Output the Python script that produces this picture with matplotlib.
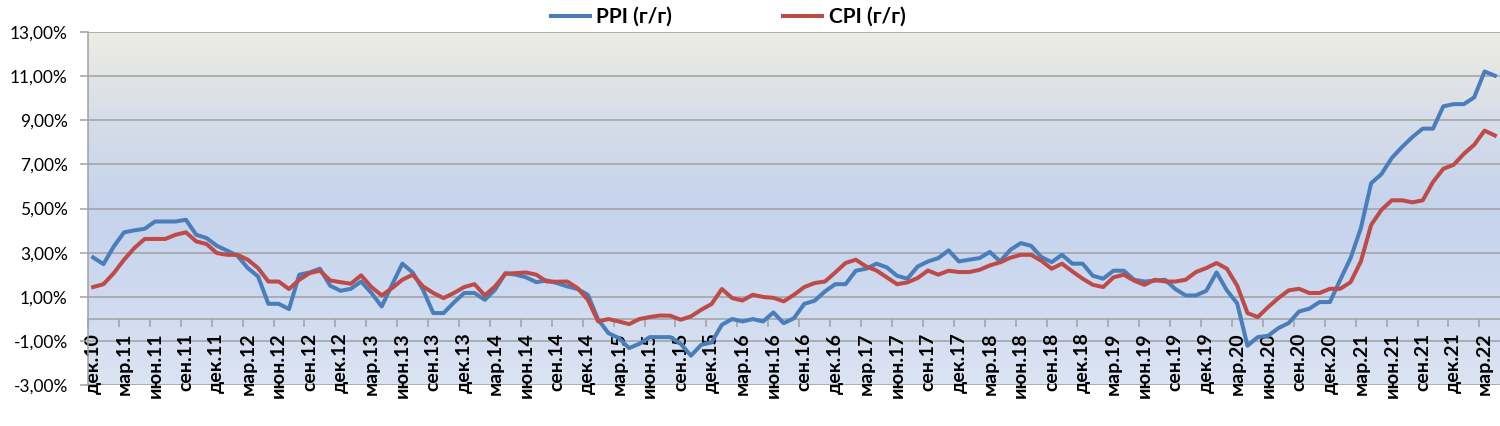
import matplotlib
matplotlib.use("Agg")
import matplotlib.pyplot as plt
import numpy as np
from matplotlib.colors import LinearSegmentedColormap
from matplotlib.ticker import FixedLocator, FuncFormatter

# ---- data (monthly, Dec 2010 .. Apr 2022), % y/y ----
ppi = [2.78, 2.48, 3.28, 3.92, 4.01, 4.08, 4.41, 4.41, 4.41, 4.49, 3.81, 3.66,
       3.31, 3.09, 2.86, 2.30, 1.92, 0.68, 0.68, 0.44, 2.00, 2.10, 2.27, 1.50,
       1.27, 1.36, 1.69, 1.17, 0.56, 1.54, 2.50, 2.10, 1.32, 0.26, 0.26, 0.74,
       1.17, 1.17, 0.86, 1.32, 2.07, 2.00, 1.88, 1.66, 1.74, 1.62, 1.47, 1.35,
       1.09, -0.04, -0.65, -0.87, -1.33, -1.13, -0.83, -0.83, -0.83, -1.13, -1.67, -1.18,
       -1.07, -0.27, -0.01, -0.12, -0.01, -0.12, 0.29, -0.20, 0.03, 0.68, 0.82, 1.24,
       1.57, 1.57, 2.18, 2.27, 2.50, 2.33, 1.95, 1.82, 2.37, 2.60, 2.75, 3.10,
       2.60, 2.68, 2.75, 3.03, 2.60, 3.13, 3.43, 3.31, 2.80, 2.57, 2.90, 2.50,
       2.50, 1.95, 1.82, 2.18, 2.18, 1.77, 1.69, 1.73, 1.77, 1.35, 1.06, 1.06,
       1.27, 2.10, 1.29, 0.70, -1.22, -0.83, -0.77, -0.42, -0.19, 0.33, 0.46, 0.76,
       0.76, 1.77, 2.75, 4.11, 6.15, 6.56, 7.29, 7.79, 8.24, 8.62, 8.62, 9.63,
       9.73, 9.73, 10.04, 11.21, 11.02]
cpi = [1.44, 1.57, 2.07, 2.68, 3.21, 3.62, 3.62, 3.62, 3.81, 3.92, 3.51, 3.39,
       2.98, 2.90, 2.90, 2.68, 2.30, 1.69, 1.69, 1.35, 1.77, 2.07, 2.18, 1.74,
       1.66, 1.59, 1.97, 1.44, 1.06, 1.39, 1.77, 2.00, 1.47, 1.17, 0.94, 1.17,
       1.44, 1.57, 1.06, 1.47, 2.04, 2.07, 2.10, 2.00, 1.69, 1.68, 1.69, 1.39,
       0.86, -0.12, -0.01, -0.12, -0.24, -0.01, 0.08, 0.15, 0.14, -0.04, 0.11, 0.41,
       0.67, 1.35, 0.94, 0.83, 1.09, 0.99, 0.95, 0.79, 1.09, 1.44, 1.62, 1.69,
       2.10, 2.53, 2.68, 2.37, 2.19, 1.88, 1.57, 1.65, 1.85, 2.19, 2.00, 2.18,
       2.12, 2.12, 2.22, 2.42, 2.56, 2.77, 2.90, 2.90, 2.63, 2.27, 2.50, 2.15,
       1.82, 1.54, 1.44, 1.88, 2.00, 1.73, 1.54, 1.77, 1.69, 1.69, 1.77, 2.12,
       2.30, 2.53, 2.27, 1.50, 0.26, 0.08, 0.53, 0.94, 1.29, 1.36, 1.17, 1.17,
       1.36, 1.36, 1.66, 2.60, 4.26, 4.94, 5.37, 5.37, 5.28, 5.37, 6.20, 6.80,
       6.98, 7.48, 7.89, 8.53, 8.31]
tick_labels = ["дек.10",
               "мар.11", "июн.11", "сен.11", "дек.11",
               "мар.12", "июн.12", "сен.12", "дек.12",
               "мар.13", "июн.13", "сен.13", "дек.13",
               "мар.14", "июн.14", "сен.14", "дек.14",
               "мар.15", "июн.15", "сен.15", "дек.15",
               "мар.16", "июн.16", "сен.16", "дек.16",
               "мар.17", "июн.17", "сен.17", "дек.17",
               "мар.18", "июн.18", "сен.18", "дек.18",
               "мар.19", "июн.19", "сен.19", "дек.19",
               "мар.20", "июн.20", "сен.20", "дек.20",
               "мар.21", "июн.21", "сен.21", "дек.21",
               "мар.22"]
series_names = ["PPI (г/г)", "CPI (г/г)"]
y_ticks = [-3, -1, 1, 3, 5, 7, 9, 11, 13]

plt.rcParams['font.family'] = ['Lato', 'Open Sans', 'DejaVu Sans']

fig = plt.figure(figsize=(15, 4.26), dpi=100)
ax = fig.add_axes([88/1500, 1 - 385/426, 1 - 88/1500, (385 - 32)/426])

n = len(ppi)
x = np.arange(n)

# gradient background (row 0 = top)
cmap = LinearSegmentedColormap.from_list("bg", [
    (0.0, (238/255, 237/255, 228/255)),
    (0.25, (214/255, 221/255, 233/255)),
    (0.5, (197/255, 211/255, 236/255)),
    (0.75, (206/255, 218/255, 239/255)),
    (1.0, (219/255, 228/255, 243/255))])
grad = np.linspace(0, 1, 256).reshape(-1, 1)
ax.imshow(grad, cmap=cmap, aspect='auto', extent=[-0.5, n - 0.5, -3, 13],
          origin='upper', zorder=0, interpolation='bicubic')
ax.set_xlim(-0.5, n - 0.5)
ax.set_ylim(-3, 13)

# grid
for yv in y_ticks:
    ax.axhline(yv, color='#a0a0a0', lw=1.1, zorder=1)

l1, = ax.plot(x, ppi, color='#4a7ebb', lw=2.9, zorder=3, label=series_names[0],
              solid_joinstyle='round')
l2, = ax.plot(x, cpi, color='#be4b48', lw=2.9, zorder=3, label=series_names[1],
              solid_joinstyle='round')

# axes styling
for s in ['top', 'right']:
    ax.spines[s].set_visible(False)
ax.spines['left'].set_color('#a0a0a0')
ax.spines['left'].set_linewidth(1.1)
ax.spines['bottom'].set_position(('data', 0))
ax.spines['bottom'].set_color('#a0a0a0')
ax.spines['bottom'].set_linewidth(1.1)

ax.yaxis.set_major_locator(FixedLocator(y_ticks))
ax.yaxis.set_major_formatter(FuncFormatter(lambda v, p: f"{v:.2f}%".replace('.', ',')))
ax.tick_params(axis='y', length=5.5, width=1.1, color='#a0a0a0', pad=9,
               labelsize=12.5, labelcolor='#000000')

label_pos = np.arange(0, n, 3)[:len(tick_labels)]
ax.set_xticks(label_pos)
ax.set_xticklabels(tick_labels, rotation=90, fontsize=14, fontweight='bold',
                   va='top', ha='center')
ax.set_xticks(np.arange(-0.5, n, 3), minor=True)
ax.tick_params(axis='x', which='major', length=0, pad=10)
ax.tick_params(axis='x', which='minor', length=5.5, width=1.1, color='#a0a0a0')

fig.legend(handles=[l1, l2], loc='center', bbox_to_anchor=(728/1500, 1 - 17/426),
           ncol=2, frameon=False, prop={'size': 15, 'weight': 'bold'},
           handlelength=1.9, handletextpad=0.3, columnspacing=5.3)

fig.savefig("out.png", dpi=100)
